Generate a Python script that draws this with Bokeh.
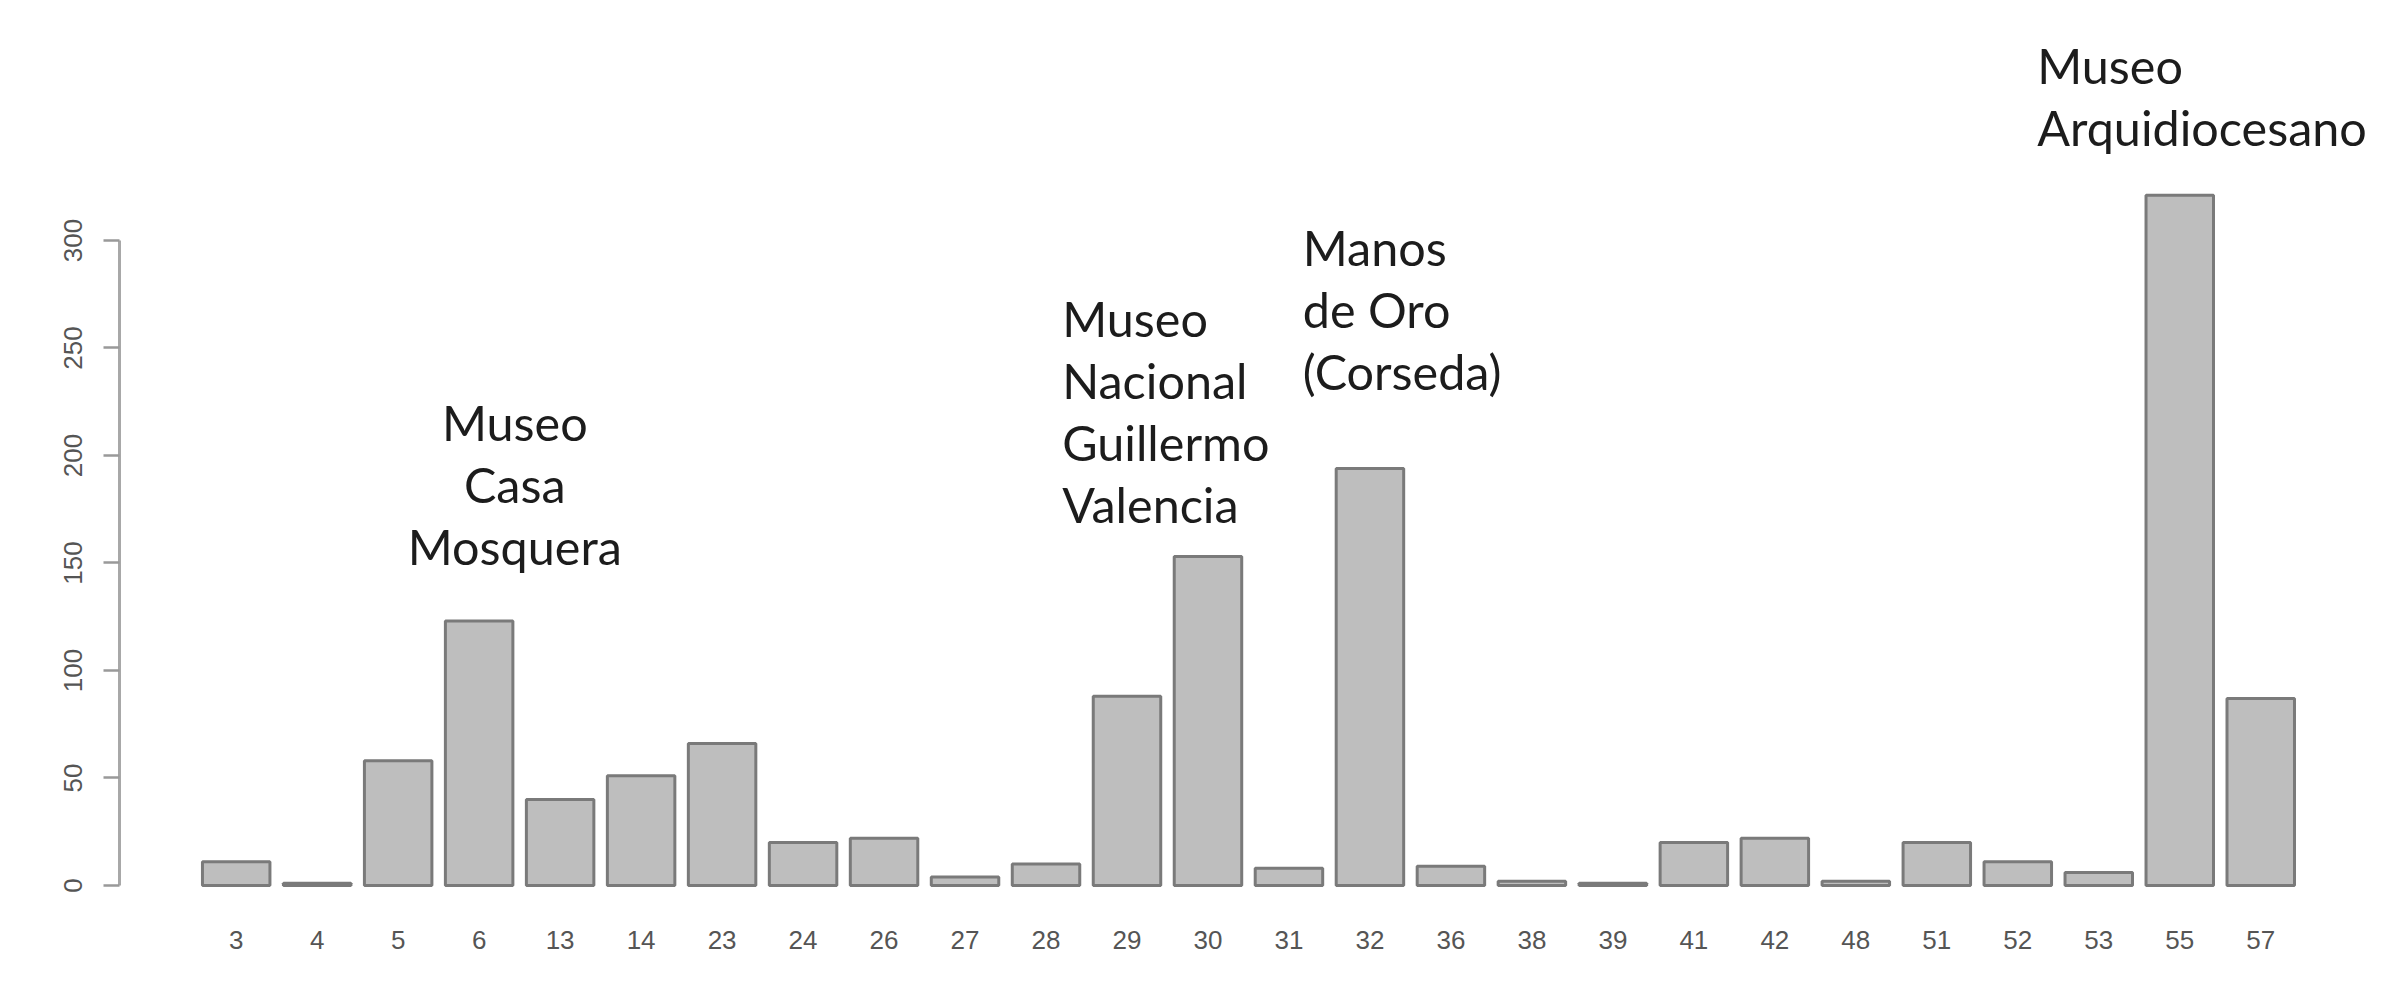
from bokeh.plotting import figure
from bokeh.models import Range1d, FixedTicker, ColumnDataSource
from bokeh.core.properties import value
from bokeh.embed import file_html
from bokeh.resources import INLINE

# ---- data ----
categories = ["3", "4", "5", "6", "13", "14", "23", "24", "26", "27", "28", "29", "30",
              "31", "32", "36", "38", "39", "41", "42", "48", "51", "52", "53", "55", "57"]
counts = [11, 1, 58, 123, 40, 51, 66, 20, 22, 4, 10, 88, 153,
          8, 194, 9, 2, 1, 20, 22, 2, 20, 11, 6, 321, 87]
y_ticks = [0, 50, 100, 150, 200, 250, 300]

# annotation labels (lines), anchored near the bars they describe
ann_lines = [["Museo", "Casa", "Mosquera"],
             ["Museo", "Nacional", "Guillermo", "Valencia"],
             ["Manos", "de Oro", "(Corseda)"],
             ["Museo", "Arquidiocesano"]]
ann_x = [3.44, 10.20, 13.17, 22.24]
ann_y = [215.8, 264.1, 297.2, 381.8]
ann_align = ["center", "left", "left", "left"]
line_step = 28.9  # data units between annotation lines

xs = list(range(len(categories)))
src = ColumnDataSource(dict(x=xs, top=counts))

p = figure(width=2392, height=980, output_backend="svg", toolbar_location=None,
           x_range=Range1d(-1.441, 26.627), y_range=Range1d(-1.395, 407.9),
           min_border_left=119, min_border_right=0, min_border_top=8, min_border_bottom=92)

p.vbar(x="x", top="top", bottom=0, width=1 / 1.2, source=src,
       fill_color="#bebebe", line_color="#7a7a7a", line_width=3)

# annotation texts
tx, ty, tt, ta = [], [], [], []
for lines, x0, y0, al in zip(ann_lines, ann_x, ann_y, ann_align):
    for k, ln in enumerate(lines):
        tx.append(x0)
        ty.append(y0 - k * line_step)
        tt.append(ln)
        ta.append(al)
tsrc = ColumnDataSource(dict(x=tx, y=ty, text=tt, align=ta))
p.text(x="x", y="y", text="text", text_align="align", source=tsrc,
       text_font=value("Lato"), text_font_size="48.5px", text_color="#1c1c1c",
       text_baseline="alphabetic")

# axes styling
p.grid.visible = False
p.outline_line_color = None
p.background_fill_color = "white"

xa = p.xaxis[0]
xa.ticker = FixedTicker(ticks=xs)
xa.major_label_overrides = {i: c for i, c in zip(xs, categories)}
xa.axis_line_color = None
xa.major_tick_line_color = None
xa.minor_tick_line_color = None
xa.major_tick_out = 0
xa.major_label_standoff = 42
xa.major_label_text_font = "'Liberation Sans Narrow', 'Liberation Sans', sans-serif"
xa.major_label_text_font_size = "26px"
xa.major_label_text_color = "#555555"

ya = p.yaxis[0]
ya.ticker = FixedTicker(ticks=y_ticks)
ya.bounds = (0, 300)
ya.axis_line_color = "#a8a8a8"
ya.axis_line_width = 3
ya.major_tick_line_color = "#999999"
ya.major_tick_line_width = 2.5
ya.major_tick_out = 16
ya.major_tick_in = 0
ya.minor_tick_line_color = None
ya.major_label_orientation = "vertical"
ya.major_label_standoff = 21
ya.major_label_text_font = "'Liberation Sans Narrow', 'Liberation Sans', sans-serif"
ya.major_label_text_font_size = "26px"
ya.major_label_text_color = "#555555"

open("out.html", "w").write(file_html(p, INLINE))
